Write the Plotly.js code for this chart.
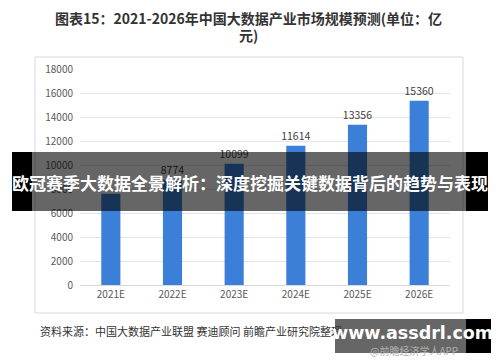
<!DOCTYPE html>
<html>
<head>
<meta charset="utf-8">
<script src="https://cdn.plot.ly/plotly-3.0.1.min.js"></script>
<style>html,body{margin:0;padding:0;background:#fff;}#chart{width:500px;height:362px;}</style>
</head>
<body>
<div id="chart"></div>
<script>
const categories = ["2021E", "2022E", "2023E", "2024E", "2025E", "2026E"];
const marketSize = [7600, 8774, 10099, 11614, 13356, 15360];
const valueLabels = ["", "8774", "10099", "11614", "13356", "15360"];
const yTicks = [0, 2000, 4000, 6000, 8000, 10000, 12000, 14000, 16000, 18000];

const titleLine1 = "图表15：2021-2026年中国大数据产业市场规模预测(单位：亿";
const titleLine2 = "元)";
const bannerText = "欧冠赛季大数据全景解析：深度挖掘关键数据背后的趋势与表现";
const sourceText = "资料来源：中国大数据产业联盟 赛迪顾问 前瞻产业研究院整理";

// plot area in pixels: x 80..450, y 69..285
const L = 80, R = 450, T = 69, B = 285;
const px = x => (x - L) / (R - L);
const py = y => (B - y) / (B - T);

const font = "'Microsoft YaHei', 'Noto Sans CJK SC', 'Noto Sans', sans-serif";

const trace = {
  type: "bar",
  x: categories,
  y: marketSize,
  marker: {color: "#3b7fd8"},
  text: valueLabels,
  textposition: "outside",
  constraintext: "none",
  cliponaxis: false,
  textfont: {size: 10.5, color: "#404040", family: font},
  hoverinfo: "x+y"
};

const layout = {
  width: 500, height: 362,
  margin: {l: L, r: 500 - R, t: T, b: 362 - B},
  paper_bgcolor: "#ffffff",
  plot_bgcolor: "#ffffff",
  showlegend: false,
  bargap: 0.69,
  font: {family: font, color: "#404040"},
  xaxis: {type: "category", showgrid: false, zeroline: false, showline: true,
          linecolor: "#d9d9d9", linewidth: 1, ticks: "",
          tickfont: {size: 10, color: "#595959"}, fixedrange: true},
  yaxis: {range: [0, 18000], tickvals: yTicks, tickformat: "d", showgrid: true, gridcolor: "#e3e3e3",
          zeroline: false, showline: false, ticks: "", ticklabelstandoff: 6,
          tickfont: {size: 10, color: "#595959"}, fixedrange: true},
  shapes: [
    {type: "rect", xref: "paper", yref: "paper", x0: px(35), x1: px(463), y0: py(57), y1: py(313),
     line: {color: "#d9d9d9", width: 1}, fillcolor: "rgba(0,0,0,0)", layer: "below"},
    {type: "rect", xref: "paper", yref: "paper", x0: px(12), x1: px(32), y0: py(152), y1: py(211),
     line: {width: 0}, fillcolor: "#000000", layer: "above"},
    {type: "rect", xref: "paper", yref: "paper", x0: px(32), x1: px(466), y0: py(152), y1: py(211),
     line: {width: 0}, fillcolor: "rgba(0,0,0,0.6)", layer: "above"},
    {type: "rect", xref: "paper", yref: "paper", x0: px(466), x1: px(488), y0: py(152), y1: py(211),
     line: {width: 0}, fillcolor: "#000000", layer: "above"},
    {type: "rect", xref: "paper", yref: "paper", x0: px(335), x1: px(466), y0: py(319), y1: py(353),
     line: {width: 0}, fillcolor: "rgba(0,0,0,0.6)", layer: "above"},
    {type: "rect", xref: "paper", yref: "paper", x0: px(466), x1: px(491), y0: py(319), y1: py(353),
     line: {width: 0}, fillcolor: "#000000", layer: "above"}
  ],
  annotations: [
    {xref: "paper", yref: "paper", x: px(248), y: py(18), xanchor: "center", yanchor: "middle",
     text: titleLine1, showarrow: false,
     font: {size: 14, color: "#333333", family: font, weight: "bold"}},
    {xref: "paper", yref: "paper", x: px(248), y: py(35), xanchor: "center", yanchor: "middle",
     text: titleLine2, showarrow: false,
     font: {size: 14, color: "#333333", family: font, weight: "bold"}},
    {xref: "paper", yref: "paper", x: px(250), y: py(182), xanchor: "center", yanchor: "middle",
     text: bannerText, showarrow: false,
     font: {size: 17, color: "#ffffff", family: font, weight: "bold"}},
    {xref: "paper", yref: "paper", x: px(38), y: py(331), xanchor: "left", yanchor: "middle",
     text: sourceText, showarrow: false,
     font: {size: 11, color: "#333333", family: font}},
    {xref: "paper", yref: "paper", x: px(412), y: py(333), xanchor: "center", yanchor: "middle",
     text: "www.assdrl.com", showarrow: false,
     font: {size: 17.5, color: "#ffffff", family: "'DejaVu Sans', sans-serif", weight: "bold"}},
    {xref: "paper", yref: "paper", x: px(414), y: py(350), xanchor: "center", yanchor: "middle",
     text: "@前瞻经济学人APP", showarrow: false,
     font: {size: 10, color: "#b0b0b0", family: font}}
  ]
};

Plotly.newPlot("chart", [trace], layout, {displayModeBar: false, staticPlot: true});
</script>
</body>
</html>
